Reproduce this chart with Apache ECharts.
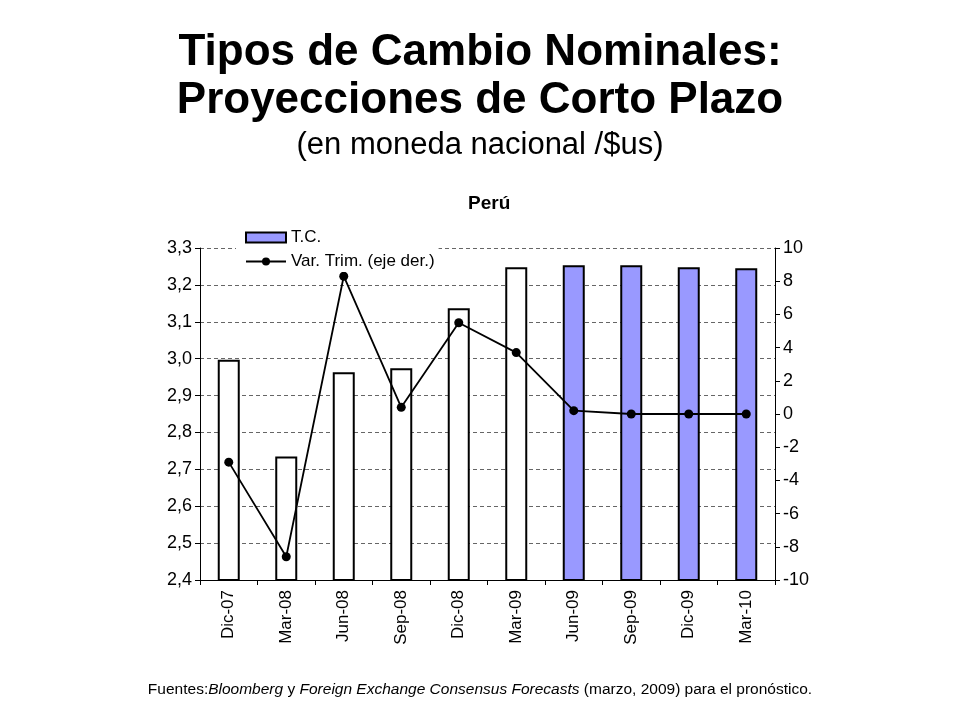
<!DOCTYPE html>
<html>
<head>
<meta charset="utf-8">
<title>Tipos de Cambio Nominales</title>
<script src="https://cdn.jsdelivr.net/npm/echarts@6/dist/echarts.min.js"></script>
<style>
  html, body { margin: 0; padding: 0; background: #fff; }
  #chart { width: 960px; height: 720px; }
</style>
</head>
<body>
<div id="chart"></div>
<script>
// periodos (trimestres)
const categories = ['Dic-07', 'Mar-08', 'Jun-08', 'Sep-08', 'Dic-08', 'Mar-09', 'Jun-09', 'Sep-09', 'Dic-09', 'Mar-10']
// tipo de cambio, eje izq.
const tcValues = [2.997, 2.735, 2.963, 2.974, 3.137, 3.248, 3.253, 3.253, 3.248, 3.245]
// variacion trimestral %, eje der.
const varTrim = [-2.9, -8.6, 8.3, 0.4, 5.5, 3.7, 0.2, 0.0, 0.0, 0.0]
// desde que indice empieza el pronostico
const forecastFrom = 6

const FONT = 'Liberation Sans, Arial, sans-serif'

const myChart = echarts.init(document.getElementById('chart'))

const barData = tcValues.map((v, i) => {
  if (i >= forecastFrom) return v
  return { value: v, itemStyle: { color: '#ffffff' } }
})

const option = {
  backgroundColor: '#ffffff',
  animation: false,
  title: [
    {
      text: 'Tipos de Cambio Nominales:\nProyecciones de Corto Plazo',
      left: 'center',
      top: 24,
      textStyle: { fontFamily: FONT, fontSize: 44, fontWeight: 'bold', color: '#000', lineHeight: 48 }
    },
    {
      text: '(en moneda nacional /$us)',
      left: 'center',
      top: 125,
      textStyle: { fontFamily: FONT, fontSize: 31, fontWeight: 'normal', color: '#000' }
    },
    {
      text: 'Perú',
      left: 463,
      top: 189,
      textStyle: { fontFamily: FONT, fontSize: 19, fontWeight: 'bold', color: '#000' }
    },
    {
      text: '{n|Fuentes:}{i|Bloomberg}{n| y }{i|Foreign Exchange Consensus Forecasts}{n| (marzo, 2009) para el pronóstico.}',
      left: 'center',
      top: 677,
      textStyle: {
        fontWeight: 'normal',
        rich: {
          n: { fontFamily: FONT, fontSize: 15.5, fontWeight: 'normal', color: '#000' },
          i: { fontFamily: FONT, fontSize: 15.5, fontWeight: 'normal', fontStyle: 'italic', color: '#000' }
        }
      }
    }
  ],
  legend: {
    orient: 'vertical',
    left: 236,
    top: 227,
    itemWidth: 40,
    itemHeight: 10,
    itemGap: 7,
    padding: [2, 4, 2, 9],
    backgroundColor: '#ffffff',
    textStyle: { fontFamily: FONT, fontSize: 17, color: '#000' },
    data: [{ name: 'T.C.', icon: 'rect' }, { name: 'Var. Trim. (eje der.)' }]
  },
  grid: { left: 200, right: 185, top: 248, bottom: 140, containLabel: false },
  xAxis: {
    type: 'category',
    data: categories,
    axisLine: { onZero: false, lineStyle: { color: '#000', width: 1 } },
    axisTick: { show: true, length: 5, lineStyle: { color: '#000' } },
    axisLabel: { rotate: 90, fontFamily: FONT, fontSize: 17, color: '#000', margin: 10 }
  },
  yAxis: [
    {
      type: 'value',
      min: 2.4,
      max: 3.3,
      interval: 0.1,
      position: 'left',
      axisLine: { show: true, lineStyle: { color: '#000' } },
      axisTick: { show: true, length: 5, lineStyle: { color: '#000' } },
      axisLabel: {
        fontFamily: FONT, fontSize: 18, color: '#000', margin: 8,
        formatter: (v) => v.toFixed(1).replace('.', ',')
      },
      splitLine: { show: true, lineStyle: { color: '#666', type: [4, 3], width: 1 } }
    },
    {
      type: 'value',
      min: -10,
      max: 10,
      interval: 2,
      position: 'right',
      axisLine: { show: true, lineStyle: { color: '#000' } },
      axisTick: { show: true, length: 5, lineStyle: { color: '#000' } },
      axisLabel: { fontFamily: FONT, fontSize: 18, color: '#000', margin: 8 },
      splitLine: { show: false }
    }
  ],
  series: [
    {
      name: 'T.C.',
      type: 'bar',
      yAxisIndex: 0,
      barWidth: 22,
      data: barData,
      itemStyle: { color: '#9999ff', borderColor: '#000', borderWidth: 2 }
    },
    {
      name: 'Var. Trim. (eje der.)',
      type: 'line',
      yAxisIndex: 1,
      data: varTrim,
      symbol: 'circle',
      symbolSize: 9,
      lineStyle: { color: '#000', width: 1.8 },
      itemStyle: { color: '#000' }
    }
  ]
}

myChart.setOption(option)

window.addEventListener('resize', () => myChart.resize())
</script>
</body>
</html>
